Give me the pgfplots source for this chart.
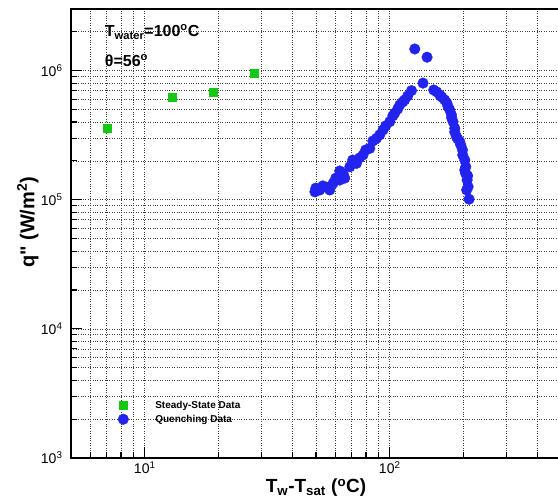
\documentclass[border=0pt]{standalone}
\usepackage{pgfplots}
\pgfplotsset{compat=1.18}
\usepackage{fontspec}
\setmainfont{Liberation Sans}[Ligatures=TeXOff]
\definecolor{sgreen}{RGB}{20,200,20}
\definecolor{qblue}{RGB}{35,35,240}
\begin{document}
\begin{tikzpicture}
\begin{axis}[
  at={(0,0)}, anchor=south west,
  scale only axis, width=490pt, height=449pt,
  xmode=log, ymode=log,
  xmin=5, xmax=500, ymin=1e3, ymax=3e6,
  xtick={10,100},
  xticklabels={10\textsuperscript{1},10\textsuperscript{2}},
  minor xtick={5,6,7,8,9,20,30,40,50,60,70,80,90,200,300,400,500},
  ytick={1e3,1e4,1e5,1e6},
  yticklabels={10\textsuperscript{3},10\textsuperscript{4},10\textsuperscript{5},10\textsuperscript{6}},
  minor ytick={2e3,3e3,4e3,5e3,6e3,7e3,8e3,9e3,2e4,3e4,4e4,5e4,6e4,7e4,8e4,9e4,2e5,3e5,4e5,5e5,6e5,7e5,8e5,9e5,2e6,3e6},
  grid=both,
  major grid style={black!75, line width=0.6pt, dash pattern=on 0.8pt off 1.6pt},
  minor grid style={black!75, line width=0.6pt, dash pattern=on 0.8pt off 1.6pt},
  tick pos=left, tick align=inside,
  major tick length=11pt, minor tick length=6pt,
  every tick/.style={black, line width=1.2pt},
  axis line style={line width=1.6pt},
  tick label style={font=\fontsize{14}{16}\selectfont},
  yticklabel style={xshift=-5pt},
  xlabel={T\textsubscript{w}-T\textsubscript{sat} (\textsuperscript{o}C)},
  ylabel={q" (W/m\textsuperscript{2})},
  xlabel style={font=\bfseries\fontsize{19}{21}\selectfont, at={(axis description cs:0.5,-0.067)}, anchor=center},
  ylabel style={font=\bfseries\fontsize{20}{22}\selectfont, at={(axis description cs:-0.088,0.525)}, anchor=center},
  legend cell align=left,
  legend style={draw=none, fill=none, font=\bfseries\fontsize{10}{11}\selectfont,
    at={(axis description cs:0.088,0.136)}, anchor=north west, row sep=1pt},
  legend image code/.code={\path[draw=none, fill=none] (-6pt,0pt) (30pt,0pt); \draw plot coordinates {(0pt,0pt)};},
]
\addplot[only marks, mark=square*, mark size=4pt, mark options={draw=sgreen, fill=sgreen}]
  coordinates {(7,3.6e5) (13,6.2e5) (19,6.75e5) (28,9.5e5)};
\addlegendentry{Steady-State Data}
\addplot[only marks, mark=*, mark size=5.3pt, mark options={draw=qblue, fill=qblue}]
  coordinates {
  (49.5,1.15e5) (49.9,1.23e5) (51.8,1.19e5) (53.3,1.28e5) (55.2,1.25e5)
  (56.9,1.19e5) (58.7,1.34e5) (60.2,1.47e5) (62.5,1.42e5) (62.5,1.67e5)
  (64.5,1.60e5) (65.5,1.47e5) (68.7,1.80e5) (70.6,2.03e5) (73.1,1.91e5)
  (75.4,2.11e5) (77.8,2.22e5) (79.8,2.43e5) (82.9,2.50e5) (85.3,2.85e5)
  (88.3,2.99e5) (91.0,3.18e5) (93.9,3.47e5) (96.3,3.73e5) (100,4.02e5)
  (102.9,4.46e5) (104.8,4.68e5) (107.8,5.05e5) (109.9,5.42e5) (113.0,5.72e5)
  (115.1,5.93e5) (118.4,6.37e5) (122.7,7.0e5)
  (126.5,1.47e6) (142,1.27e6) (136.7,8.0e5)
  (151.2,7.08e5) (155.5,6.84e5) (160,6.48e5) (163,6.25e5) (167.6,5.93e5)
  (171,5.62e5) (173,5.26e5) (175.8,4.96e5) (178.6,4.54e5) (179,4.30e5)
  (181.3,4.02e5) (184.2,3.58e5) (184.2,3.35e5) (187.1,3.08e5) (189.5,2.96e5)
  (193.1,2.82e5) (195,2.65e5) (198.1,2.43e5) (198.6,2.22e5) (202.4,2.03e5)
  (204.3,1.80e5) (202.4,1.70e5) (204,1.60e5) (208,1.53e5) (206.9,1.42e5)
  (208.9,1.26e5) (206,1.19e5) (210.8,1.01e5)
  };
\addlegendentry{Quenching Data}
\node[anchor=west, font=\bfseries\fontsize{16}{18}\selectfont] at (axis description cs:0.062,0.949) {T\textsubscript{water}=100\textsuperscript{o}C};
\node[anchor=west, font=\bfseries\fontsize{16}{18}\selectfont] at (axis description cs:0.062,0.885) {θ=56\textsuperscript{o}};
\end{axis}
\pgfresetboundingbox
\useasboundingbox (-71pt,-43pt) rectangle (487pt,458pt);
\end{tikzpicture}
\end{document}
